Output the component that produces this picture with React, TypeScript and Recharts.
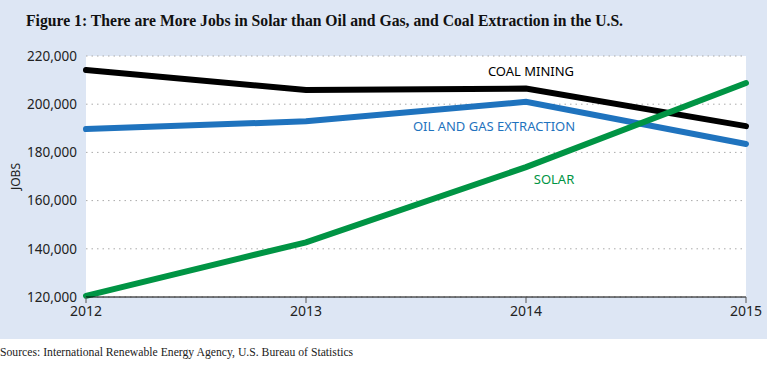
import { CartesianGrid, Line, LineChart, XAxis, YAxis } from "recharts";

const YEARS = [2012, 2013, 2014, 2015];
const COAL_MINING = [214200, 205900, 206500, 190900];
const OIL_AND_GAS = [189700, 192900, 201000, 183500];
const SOLAR = [120500, 142700, 173900, 208800];
const Y_TICKS = [120000, 140000, 160000, 180000, 200000, 220000];

const BAND = "rgb(221, 230, 244)";
const SANS = "'Noto Sans', 'Open Sans', sans-serif";
const SERIF = "'Liberation Serif', 'DejaVu Serif', serif";

const data = YEARS.map((year, i) => ({
  year,
  coal: COAL_MINING[i],
  oil: OIL_AND_GAS[i],
  solar: SOLAR[i],
}));

// series name drawn once, near the 2014 point
function seriesLabel(text: string, color: string, dx: number, dy: number) {
  return (props: any) => {
    if (props.index !== 2) return null;
    return (
      <text
        x={props.x + dx}
        y={props.y + dy}
        fill={color}
        fontSize={13}
        fontFamily={SANS}
        textAnchor="middle"
        dominantBaseline="middle"
      >
        {text}
      </text>
    );
  };
}

export default function App() {
  return (
    <div style={{ width: 767, height: 367, position: "relative", background: "#fff" }}>
      <style>{"body{margin:0}"}</style>
      <div style={{ position: "absolute", left: 0, top: 0, width: 767, height: 339, background: BAND }} />
      <div
        style={{
          position: "absolute",
          left: 26,
          top: 12,
          fontFamily: SERIF,
          fontWeight: "bold",
          fontSize: 15.7,
          color: "#111",
          whiteSpace: "nowrap",
        }}
      >
        Figure 1: There are More Jobs in Solar than Oil and Gas, and Coal Extraction in the U.S.
      </div>
      <div style={{ position: "absolute", left: 0, top: 0 }}>
        <LineChart
          width={767}
          height={339}
          data={data}
          margin={{ top: 56, right: 21, left: 0, bottom: 12 }}
        >
          <CartesianGrid
            vertical={false}
            fill="#fff"
            stroke="#aaa"
            strokeDasharray="1.5 4"
          />
          <XAxis
            dataKey="year"
            axisLine={{ stroke: "#000", strokeWidth: 1 }}
            tickLine={{ stroke: "#555" }}
            tickSize={6}
            tickMargin={3}
            tick={{ fill: "#222", fontSize: 14, fontFamily: SANS }}
            height={30}
            interval={0}
          />
          <YAxis
            width={86}
            domain={[120000, 220000]}
            ticks={Y_TICKS}
            axisLine={false}
            tickLine={false}
            tickMargin={3}
            tick={{ fill: "#222", fontSize: 13.5, fontFamily: SANS }}
            tickFormatter={(v: number) => v.toLocaleString("en-US")}
            label={{
              value: "JOBS",
              angle: -90,
              position: "insideLeft",
              offset: 16,
              style: { fill: "#222", fontSize: 12, fontFamily: SANS, textAnchor: "middle" },
            }}
          />
          <Line
            dataKey="coal"
            stroke="#000"
            strokeWidth={6}
            strokeLinecap="round"
            dot={false}
            isAnimationActive={false}
            label={seriesLabel("COAL MINING", "#000", 5, -16)}
          />
          <Line
            dataKey="oil"
            stroke="rgb(31, 115, 190)"
            strokeWidth={6}
            strokeLinecap="round"
            dot={false}
            isAnimationActive={false}
            label={seriesLabel("OIL AND GAS EXTRACTION", "rgb(31, 115, 190)", -32, 26)}
          />
          <Line
            dataKey="solar"
            stroke="rgb(0, 148, 68)"
            strokeWidth={6}
            strokeLinecap="round"
            dot={false}
            isAnimationActive={false}
            label={seriesLabel("SOLAR", "rgb(0, 148, 68)", 28, 13)}
          />
        </LineChart>
      </div>
      <div
        style={{
          position: "absolute",
          left: 0,
          top: 346,
          fontFamily: SERIF,
          fontSize: 11.7,
          color: "#222",
          whiteSpace: "nowrap",
        }}
      >
        Sources: International Renewable Energy Agency, U.S. Bureau of Statistics
      </div>
    </div>
  );
}
